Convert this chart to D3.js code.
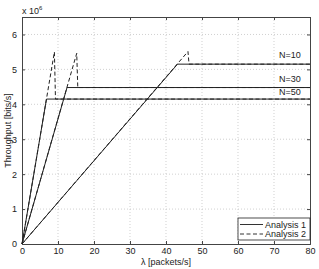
<!DOCTYPE html>
<html><head><meta charset="utf-8">
<script src="https://cdn.jsdelivr.net/npm/d3@7"></script>
<style>body{margin:0;background:#fff}svg{display:block;font-family:"Liberation Sans",Arial,sans-serif}</style>
</head><body>
<svg id="c" width="319" height="269"></svg>
<script>
const xTicks = [0,10,20,30,40,50,60,70,80];
const yTicks = [0,1,2,3,4,5,6];
const seriesN = ["N=10","N=30","N=50"];
const plateau = [5.15, 4.48, 4.15];
const cornerX = [43.2, 12.5, 6.8];
const peakX = [46.1, 15.2, 9.0];
const peakY = [5.51, 5.46, 5.5];
const legendLabels = ["Analysis 1","Analysis 2"];

const svg = d3.select("#c");
const L=22, R=310, T=17, B=244;
const x = d3.scaleLinear().domain([0,80]).range([L,R]);
const y = d3.scaleLinear().domain([0,6.5]).range([B,T]);

// grid
const g = svg.append("g");
g.selectAll(".gx").data(xTicks.slice(1,-1)).enter().append("line")
  .attr("x1",d=>x(d)).attr("x2",d=>x(d)).attr("y1",T).attr("y2",B)
  .attr("stroke","#bbb").attr("stroke-width",0.7).attr("stroke-dasharray","1,2");
g.selectAll(".gy").data(yTicks.slice(1)).enter().append("line")
  .attr("y1",d=>y(d)).attr("y2",d=>y(d)).attr("x1",L).attr("x2",R)
  .attr("stroke","#bbb").attr("stroke-width",0.7).attr("stroke-dasharray","1,2");

// axes
const fmt = d3.format("d");
const ax = svg.append("g").attr("transform",`translate(0,${B})`)
  .call(d3.axisBottom(x).tickValues(xTicks).tickFormat(fmt).tickSize(-3).tickPadding(4));
const ay = svg.append("g").attr("transform",`translate(${L},0)`)
  .call(d3.axisLeft(y).tickValues(yTicks).tickFormat(fmt).tickSize(-3).tickPadding(5));
const at = svg.append("g").attr("transform",`translate(0,${T})`)
  .call(d3.axisTop(x).tickValues(xTicks).tickSize(-3).tickFormat(""));
const ar = svg.append("g").attr("transform",`translate(${R},0)`)
  .call(d3.axisRight(y).tickValues(yTicks).tickSize(-3).tickFormat(""));
[ax,ay,at,ar].forEach(a=>{
  a.select(".domain").attr("stroke","#444");
  a.selectAll(".tick line").attr("stroke","#444");
  a.selectAll("text").attr("font-size",9).attr("fill","#222").attr("font-family","Liberation Sans, Arial, sans-serif");
});

const line = d3.line().x(d=>x(d[0])).y(d=>y(d[1]));
const plot = svg.append("g");
seriesN.forEach((n,i)=>{
  const a2 = [[0,0],[peakX[i],peakY[i]],[peakX[i]+0.3,plateau[i]],[80,plateau[i]]];
  plot.append("path").attr("d",line(a2)).attr("fill","none").attr("stroke","#222")
    .attr("stroke-width",1).attr("stroke-dasharray","4,2.5");
  const a1 = [[0,0],[cornerX[i],plateau[i]],[80,plateau[i]]];
  plot.append("path").attr("d",line(a1)).attr("fill","none").attr("stroke","#222").attr("stroke-width",1);
});

// N labels
const labY = [58, 82, 95];
seriesN.forEach((n,i)=>{
  svg.append("text").attr("x",279).attr("y",labY[i]).attr("font-size",9).attr("fill","#222").text(n);
});

// exponent
const ex = svg.append("text").attr("x",22).attr("y",14).attr("font-size",9).attr("fill","#222");
ex.append("tspan").text("x 10");
ex.append("tspan").attr("font-size",6).attr("dy",-4).text("6");

// axis labels
svg.append("text").attr("x",(L+R)/2).attr("y",265).attr("text-anchor","middle")
  .attr("font-size",9).attr("fill","#222").text("λ [packets/s]");
svg.append("text").attr("transform",`translate(11,${(T+B)/2}) rotate(-90)`).attr("text-anchor","middle")
  .attr("font-size",9).attr("fill","#222").text("Throughput [bits/s]");

// legend
const lg = svg.append("g");
lg.append("rect").attr("x",238).attr("y",218).attr("width",R-238).attr("height",22)
  .attr("fill","#fff").attr("stroke","#222").attr("stroke-width",0.8);
legendLabels.forEach((t,i)=>{
  const yy = 224.5 + i*9.5;
  lg.append("line").attr("x1",240).attr("x2",263).attr("y1",yy).attr("y2",yy)
    .attr("stroke","#333").attr("stroke-width",1).attr("stroke-dasharray",i?"4,2.5":null);
  lg.append("text").attr("x",265).attr("y",yy+3).attr("font-size",9).attr("fill","#222").text(t);
});
</script>
</body></html>
